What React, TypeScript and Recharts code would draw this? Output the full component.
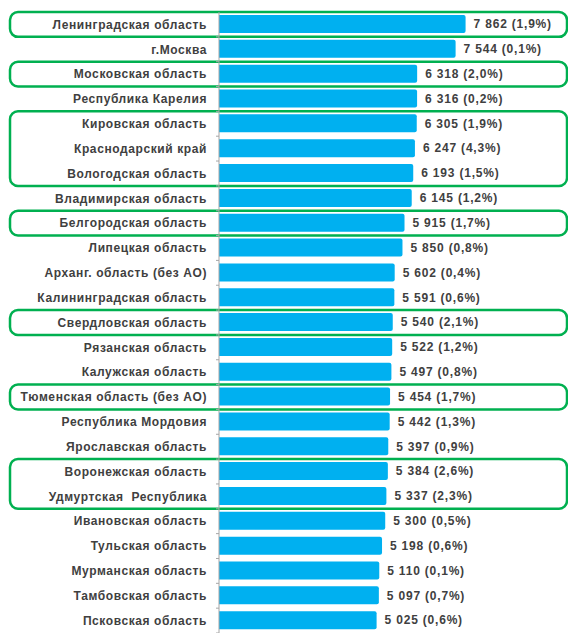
import { BarChart, Bar, XAxis, YAxis, LabelList, ReferenceArea } from 'recharts';

const regions = [
  'Ленинградская область',
  'г.Москва',
  'Московская область',
  'Республика Карелия',
  'Кировская область',
  'Краснодарский край',
  'Вологодская область',
  'Владимирская область',
  'Белгородская область',
  'Липецкая область',
  'Арханг. область (без АО)',
  'Калининградская область',
  'Свердловская область',
  'Рязанская область',
  'Калужская область',
  'Тюменская область (без АО)',
  'Республика Мордовия',
  'Ярославская область',
  'Воронежская область',
  'Удмуртская\u00A0 Республика',
  'Ивановская область',
  'Тульская область',
  'Мурманская область',
  'Тамбовская область',
  'Псковская область',
];

const values = [
  7862, 7544, 6318, 6316, 6305, 6247, 6193, 6145, 5915, 5850, 5602, 5591, 5540,
  5522, 5497, 5454, 5442, 5397, 5384, 5337, 5300, 5198, 5110, 5097, 5025,
];

const shares = [
  '1,9', '0,1', '2,0', '0,2', '1,9', '4,3', '1,5', '1,2', '1,7', '0,8', '0,4', '0,6', '2,1',
  '1,2', '0,8', '1,7', '1,3', '0,9', '2,6', '2,3', '0,5', '0,6', '0,1', '0,7', '0,6',
];

// highlighted groups: [first region index, last region index]
const groups: [number, number][] = [
  [0, 0],
  [2, 2],
  [4, 6],
  [8, 8],
  [12, 12],
  [15, 15],
  [18, 19],
];

const TEXT = '#404040';
const BAR = '#00B0F0';
const GREEN = '#00B050';
const FONT = '"Liberation Sans", Arial, sans-serif';

const fmt = (n: number) => String(n).replace(/\B(?=(\d{3})+(?!\d))/g, ' ');

const data = regions.map((name, i) => ({
  name,
  value: values[i],
  label: `${fmt(values[i])} (${shares[i]}%)`,
}));

function CategoryTick(props: any) {
  const { x, y, payload } = props;
  const half = payload.offset ?? 0;
  return (
    <g>
      <text
        x={x - 12}
        y={y}
        dy="0.355em"
        textAnchor="end"
        fill={TEXT}
        fontSize={12}
        fontWeight="bold"
        letterSpacing={0.6}
        fontFamily={FONT}
      >
        {payload.value}
      </text>
      <line x1={x - 3} x2={x} y1={y + half} y2={y + half} stroke="#a6a6a6" />
    </g>
  );
}

function GroupBox(props: any) {
  const { y, height } = props;
  return (
    <rect x={10} y={y} width={557} height={height} rx={8} ry={8} fill="none" stroke={GREEN} strokeWidth={2.5} />
  );
}

export default function App() {
  return (
    <div style={{ position: 'absolute', left: 0, top: 0, background: '#fff' }}>
      <BarChart
        width={568}
        height={633}
        data={data}
        layout="vertical"
        margin={{ top: 12, right: 4, bottom: 0, left: 0 }}
        barSize={18}
      >
        <XAxis type="number" hide domain={[0, 11000]} />
        <YAxis
          type="category"
          dataKey="name"
          width={219}
          interval={0}
          tickLine={false}
          tickSize={0}
          tickMargin={0}
          axisLine={{ stroke: '#a6a6a6' }}
          tick={<CategoryTick />}
        />
        <Bar dataKey="value" fill={BAR} radius={[0, 2, 2, 0]} isAnimationActive={false}>
          <LabelList
            dataKey="label"
            position="right"
            offset={8}
            fill={TEXT}
            fontSize={12}
            fontWeight="bold"
            letterSpacing={0.8}
            fontFamily={FONT}
          />
        </Bar>
        {groups.map(([a, b]) => (
          <ReferenceArea
            key={a}
            y1={regions[a]}
            y2={regions[b]}
            ifOverflow="visible"
            shape={<GroupBox />}
          />
        ))}
      </BarChart>
    </div>
  );
}
